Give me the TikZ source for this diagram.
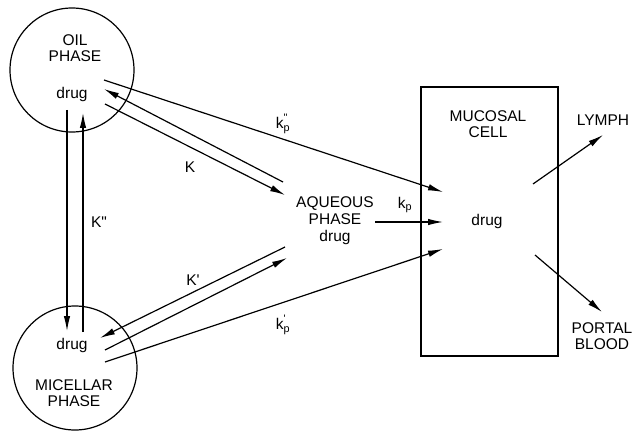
\documentclass[tikz,border=0pt]{standalone}
\usepackage{amsmath}
\usepackage{fontspec}
\setmainfont{Liberation Sans}
\usetikzlibrary{arrows.meta}

\begin{document}
\begin{tikzpicture}[x=1pt,y=-1pt]
\tikzset{phase/.style = {shape=circle,draw,line width=1.2pt,minimum size=124pt,inner sep=0pt}}
\tikzset{cell/.style = {shape=rectangle,draw,line width=1.2pt,minimum width=137pt,minimum height=269pt,inner sep=0pt}}
\tikzset{lbl/.style = {font=\fontsize{15.5}{16}\selectfont,align=center,inner sep=1pt}}
\tikzset{edge/.style = {-{Latex[length=15pt,width=6.5pt]},line width=1.2pt}}
\useasboundingbox (0,0) rectangle (637,433);
% compartments
\node[phase] (oil) at (72,70) {};
\node[phase] (mic) at (75,368) {};
\node[cell] (cell) at (489.5,221.5) {};
\node[lbl] (oilname) at (75,48) {OIL\\PHASE};
\node[lbl] (oildrug) at (72,94) {drug};
\node[lbl] (micdrug) at (72,345) {drug};
\node[lbl] (micname) at (74,393) {MICELLAR\\PHASE};
\node[lbl] (cellname) at (488,124) {MUCOSAL\\CELL};
\node[lbl] (celldrug) at (487,221) {drug};
\node[lbl,font=\fontsize{15.5}{17}\selectfont] (aq) at (335,221) {AQUEOUS\\PHASE\\drug};
\node[lbl] (lymph) at (603,120) {LYMPH};
\node[lbl] (portal) at (602,336) {PORTAL\\BLOOD};
% rate constants
\node[lbl] (kpp) at (283,124) {$\text{k}_{\text{p}}^{\text{\textquotedbl}}$};
\node[lbl] (K) at (190,167) {K};
\node[lbl] (Kpp) at (99,222) {K\textquotedbl};
\node[lbl] (Kp) at (193,280) {K\textquotesingle};
\node[lbl] (kp1) at (283,325) {$\text{k}_{\text{p}}^{\text{\textquotesingle}}$};
\node[lbl] (kp) at (405,205) {$\text{k}_{\text{p}}$};
% end points
\coordinate (oa) at (104,80);
\coordinate (ob) at (104,89);
\coordinate (oc) at (105,104);
\coordinate (od) at (67,110);
\coordinate (oe) at (83,113);
\coordinate (ma) at (67,331);
\coordinate (mb) at (83,332);
\coordinate (mc) at (100,338);
\coordinate (md) at (105,350);
\coordinate (me) at (105,362);
\coordinate (aa) at (283,182);
\coordinate (ab) at (285,195);
\coordinate (ac) at (285,247);
\coordinate (ad) at (287,258);
\coordinate (ae) at (375,222);
\coordinate (ca) at (443,192);
\coordinate (cb) at (443,222);
\coordinate (cc) at (443,249);
\coordinate (cd) at (533,184);
\coordinate (ce) at (535,255);
\coordinate (ly) at (603,135);
\coordinate (pb) at (602,312);
\draw[edge] (oa) to (ca);
\draw[edge] (aa) to (ob);
\draw[edge] (oc) to (ab);
\draw[edge] (od) to (ma);
\draw[edge] (mb) to (oe);
\draw[edge] (ac) to (mc);
\draw[edge] (md) to (ad);
\draw[edge] (me) to (cc);
\draw[edge] (ae) to (cb);
\draw[edge] (cd) to (ly);
\draw[edge] (ce) to (pb);
\end{tikzpicture}
\end{document}
